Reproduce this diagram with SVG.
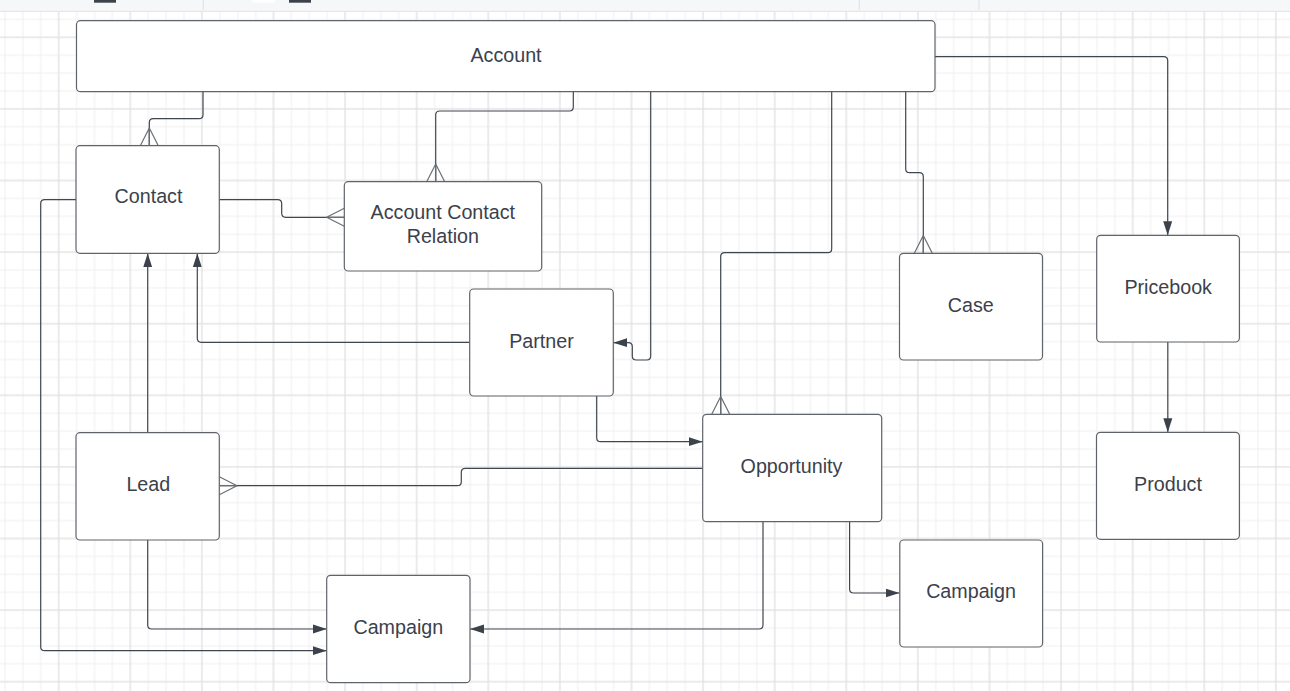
<svg xmlns="http://www.w3.org/2000/svg" width="1290" height="691" viewBox="0 0 1290 691">
<style>
.box{fill:#ffffff;stroke:#5f646b;stroke-width:1.2}
.lbl{font-family:"Liberation Sans",Arial,sans-serif;font-size:19.7px;fill:#3b414b;text-anchor:middle}
.con{fill:none;stroke:#3f464f;stroke-width:1.2}
.tb{fill:#f6f7f9}
</style>
<defs>
<pattern id="minor" patternUnits="userSpaceOnUse" x="-3.95" y="-7.45" width="17.9" height="17.9">
<path d="M8.95 0V17.9M0 8.95H17.9" stroke="#efefef" stroke-width="1" fill="none"/>
</pattern>
<pattern id="major" patternUnits="userSpaceOnUse" x="22.9" y="1.5" width="71.6" height="71.6">
<path d="M35.8 0V71.6M0 35.8H71.6" stroke="#e0e0e0" stroke-width="1" fill="none"/>
</pattern>
<marker id="arrow" markerUnits="userSpaceOnUse" viewBox="0 0 14 10" refX="14" refY="5" markerWidth="14" markerHeight="10" orient="auto">
<path d="M0,0.5 L14,5 L0,9.5 Z" fill="#3b424b"/>
</marker>
<marker id="crow" markerUnits="userSpaceOnUse" viewBox="-1 -1 20 20" refX="17.7" refY="9" markerWidth="20" markerHeight="20" orient="auto" overflow="visible">
<path d="M0,9 L17.7,0 M0,9 L17.7,18 M0,9 L17.7,9" fill="none" stroke="#6a6f76" stroke-width="1.2"/>
</marker>
</defs>
<rect x="0" y="0" width="1290" height="691" fill="#ffffff"/>
<rect x="0" y="11.7" width="1290" height="680" fill="url(#minor)"/>
<rect x="0" y="11.7" width="1290" height="680" fill="url(#major)"/>
<g id="toolbar">
<rect class="tb" x="0" y="0" width="1290" height="11.2"/>
<line x1="0" y1="11.4" x2="1290" y2="11.4" stroke="#e2e4e8" stroke-width="1"/>
<rect x="94" y="0" width="22" height="2.7" fill="#3b424b"/>
<rect x="289" y="0" width="22" height="2.7" fill="#3b424b"/>
<rect x="252.3" y="0" width="22.7" height="2.7" fill="#ffffff"/>
<line x1="203.3" y1="0" x2="203.3" y2="10" stroke="#dfe1e5" stroke-width="1"/>
<line x1="859.3" y1="0" x2="859.3" y2="10" stroke="#dfe1e5" stroke-width="1"/>
<line x1="979" y1="0" x2="979" y2="10" stroke="#dfe1e5" stroke-width="1"/>
</g>
<g id="connectors">
<path class="con" d="M203,91.7 V114.7 Q203,118.7 199,118.7 H153.3 Q149.3,118.7 149.3,122.7 V145.7" marker-end="url(#crow)"/>
<path class="con" d="M573.3,91.7 V107 Q573.3,111 569.3,111 H439.7 Q435.7,111 435.7,115 V181.7" marker-end="url(#crow)"/>
<path class="con" d="M219.3,199.7 H277.7 Q281.7,199.7 281.7,203.7 V213.3 Q281.7,217.3 285.7,217.3 H344.3" marker-end="url(#crow)"/>
<path class="con" d="M650.7,91.7 V356 Q650.7,360 646.7,360 H636.3 Q632.3,360 632.3,356 V346.7 Q632.3,342.7 628.3,342.7 H613.3" marker-end="url(#arrow)"/>
<path class="con" d="M831.7,91.7 V248.7 Q831.7,252.7 827.7,252.7 H724.7 Q720.7,252.7 720.7,256.7 V414.3" marker-end="url(#crow)"/>
<path class="con" d="M905.7,91.7 V168.7 Q905.7,172.7 909.7,172.7 H919.3 Q923.3,172.7 923.3,176.7 V253.3" marker-end="url(#crow)"/>
<path class="con" d="M935,56.7 H1163.7 Q1167.7,56.7 1167.7,60.7 V235.3" marker-end="url(#arrow)"/>
<path class="con" d="M1167.8,342 V432.3" marker-end="url(#arrow)"/>
<path class="con" d="M147.7,432.7 V253.3" marker-end="url(#arrow)"/>
<path class="con" d="M469.7,342.3 H201.3 Q197.3,342.3 197.3,338.3 V253.3" marker-end="url(#arrow)"/>
<path class="con" d="M596.7,396 V437.7 Q596.7,441.7 600.7,441.7 H702.7" marker-end="url(#arrow)"/>
<path class="con" d="M702.7,468.3 H465.3 Q461.3,468.3 461.3,472.3 V481.7 Q461.3,485.7 457.3,485.7 H219.3" marker-end="url(#crow)"/>
<path class="con" d="M147.7,540 V625 Q147.7,629 151.7,629 H326.7" marker-end="url(#arrow)"/>
<path class="con" d="M76,199.7 H44.7 Q40.7,199.7 40.7,203.7 V646.7 Q40.7,650.7 44.7,650.7 H326.7" marker-end="url(#arrow)"/>
<path class="con" d="M763,521.7 V625 Q763,629 759,629 H470" marker-end="url(#arrow)"/>
<path class="con" d="M849.6,521.7 V589 Q849.6,593 853.6,593 H899.5" marker-end="url(#arrow)"/>
</g>
<g id="account"><rect class="box" x="76.5" y="20.7" width="858.5" height="71" rx="4"/><text class="lbl" x="506" y="61.7">Account</text></g>
<g id="contact"><rect class="box" x="76" y="145.7" width="143.3" height="107.6" rx="4"/><text class="lbl" x="148.5" y="203">Contact</text></g>
<g id="account-contact-relation"><rect class="box" x="344.3" y="181.7" width="197.4" height="89.3" rx="4"/><text class="lbl" x="442.8" y="219.3">Account Contact</text><text class="lbl" x="442.8" y="242.7">Relation</text></g>
<g id="partner"><rect class="box" x="469.7" y="289" width="143.6" height="107" rx="4"/><text class="lbl" x="541.5" y="348.3">Partner</text></g>
<g id="opportunity"><rect class="box" x="702.7" y="414.3" width="179" height="107.4" rx="4"/><text class="lbl" x="791.5" y="472.7">Opportunity</text></g>
<g id="case"><rect class="box" x="899.5" y="253.3" width="143" height="106.7" rx="4"/><text class="lbl" x="970.8" y="311.7">Case</text></g>
<g id="pricebook"><rect class="box" x="1096.7" y="235.3" width="142.7" height="106.7" rx="4"/><text class="lbl" x="1168.2" y="294">Pricebook</text></g>
<g id="product"><rect class="box" x="1096.5" y="432.3" width="142.9" height="107" rx="4"/><text class="lbl" x="1168" y="490.7">Product</text></g>
<g id="lead"><rect class="box" x="76" y="432.7" width="143.3" height="107.3" rx="4"/><text class="lbl" x="148.3" y="491">Lead</text></g>
<g id="campaign-1"><rect class="box" x="326.7" y="575.3" width="143.3" height="107.4" rx="4"/><text class="lbl" x="398.3" y="634">Campaign</text></g>
<g id="campaign-2"><rect class="box" x="899.8" y="540" width="142.8" height="107" rx="4"/><text class="lbl" x="971" y="598.3">Campaign</text></g>
</svg>
